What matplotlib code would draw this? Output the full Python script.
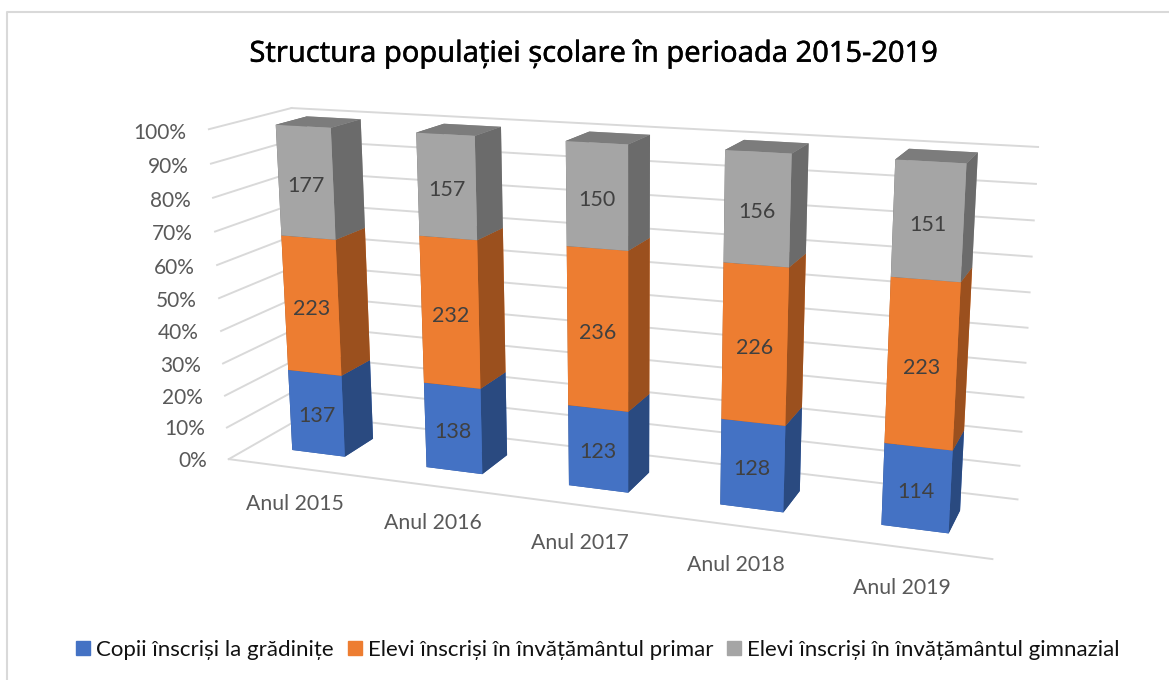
import numpy as np
from matplotlib import pyplot as plt
from matplotlib import patheffects
from matplotlib.lines import Line2D
from matplotlib.patches import Rectangle

W, H = 1169, 680
years = ['Anul 2015', 'Anul 2016', 'Anul 2017', 'Anul 2018', 'Anul 2019']
gradinita = [137, 138, 123, 128, 114]
primar = [223, 232, 236, 226, 223]
gimnazial = [177, 157, 150, 156, 151]
legend_labels = ['Copii înscriși la grădinițe', 'Elevi înscriși în învățământul primar', 'Elevi înscriși în învățământul gimnazial']
pct_ticks = list(range(0, 101, 10))
title = 'Structura populației școlare în perioada 2015-2019'

plt.rcParams['font.family'] = ['Lato', 'DejaVu Sans']
fig = plt.figure(figsize=(W / 100, H / 100), dpi=100, facecolor='w')
# square axes wider than the figure, so the 3D scene is not clipped
ax = fig.add_axes([8.8183 / W, ((H - W) / 2 + 11.775) / H, 1, W / H], projection='3d')
ax.set_xlim(0, 5)
ax.set_ylim(0, 1)
ax.set_zlim(0, 100)
ax.set_xticks([])
ax.set_yticks([])
ax.set_zticks([])
ax.set_axis_off()
ax.patch.set_alpha(0)
ax.computed_zorder = False
# camera matched to the wall corners of the picture
ax.view_init(elev=14.5395, azim=-69.4971, roll=0.1845)
ax.set_proj_type('persp', focal_length=float(np.exp(-1.2751)))
ax.set_box_aspect((np.exp(0.8227), np.exp(-0.7708), 1.0), zoom=float(np.exp(-0.3024)))
ax.apply_aspect()

#text placed at a 3D point, drawn flat on the figure
def label(x, y, z, s, **kw):
    v = ax.get_proj() @ np.array([x, y, z, 1.0])
    d = ax.transData.transform((v[0] / v[3], v[1] / v[3]))
    fig.text(d[0] / W, d[1] / H, s, va='center', **kw)

grid = '#D9D9D9'
for t in pct_ticks:
    ax.plot([0, 0], [0, 1], [t, t], color=grid, lw=1.4, zorder=1)
    ax.plot([0, 5], [1, 1], [t, t], color=grid, lw=1.4, zorder=1)
    label(-0.17, 0, t - 1.4, '%d%%' % t, ha='right', fontsize=15, color='#595959')
ax.plot([0, 5], [0, 0], [0, 0], color=grid, lw=1.4, zorder=1)

fronts = ['#4472C4', '#ED7D31', '#A5A5A5']
sides = ['#2A4A80', '#9B501E', '#6B6B6B']
tops = ['#365B9D', '#BE6427', '#7C7C7C']
series = np.array([gradinita, primar, gimnazial], float)
perc = series / series.sum(axis=0) * 100
bw, y0, y1 = 0.399, 0.3009, 0.6913
for i in range(5):
    bottom = 0
    for s in range(3):
        c = [tops[s], tops[s], fronts[s], fronts[s], sides[s], sides[s]]
        ax.bar3d(i + 0.5 - bw / 2, y0, bottom, bw, y1 - y0, perc[s, i], color=c, shade=False, zorder=2 + s, linewidth=0)
        label(i + 0.5, y0, bottom + perc[s, i] / 2 - 1, '%d' % series[s, i], ha='center', fontsize=15.5, color='#404040')
        bottom += perc[s, i]
    label(i + 0.5, -0.025, -11, years[i], ha='center', fontsize=15.3, color='#595959')

fig.text(594 / W, 1 - 54 / H, title, ha='center', va='center', fontsize=20.9, color='k', family=['Noto Sans', 'DejaVu Sans'],
         path_effects=[patheffects.withStroke(linewidth=0.3, foreground='k')])
handles = [Rectangle((0, 0), 1, 1, color=c) for c in fronts]
fig.legend(handles, legend_labels, ncol=3, loc='center', bbox_to_anchor=(598 / W, 1 - 650 / H), frameon=False,
           fontsize=16, handlelength=0.63, handleheight=0.63, handletextpad=0.27, columnspacing=0.62, labelcolor='#111111')
# chart frame shows only at the top and the left
fig.add_artist(Line2D([7 / W, 7 / W, 1], [0, 1 - 12 / H, 1 - 12 / H], color=grid, lw=1.5))
fig.savefig('out.png', dpi=100)
